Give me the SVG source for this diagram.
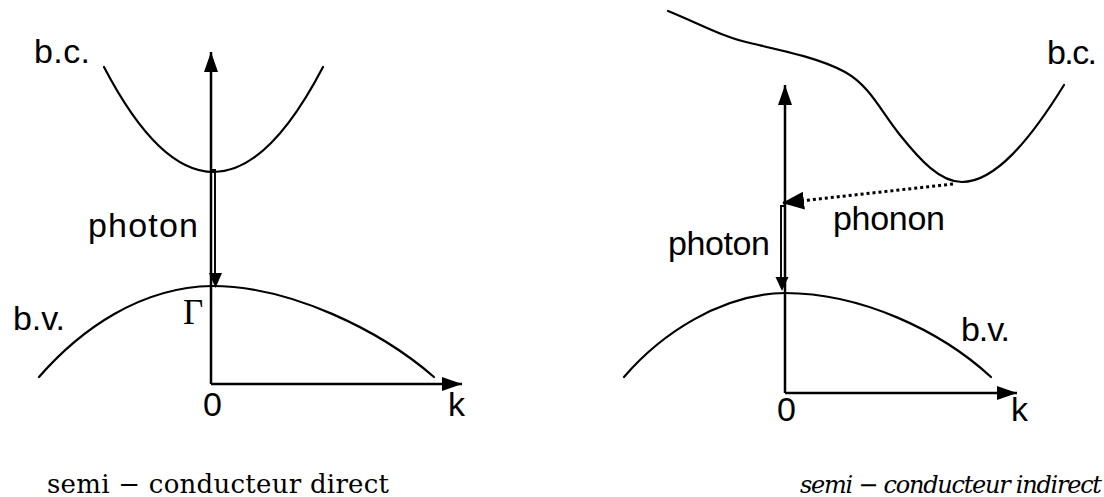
<svg xmlns="http://www.w3.org/2000/svg" width="1104" height="497" viewBox="0 0 1104 497">
<defs>
<style>
.curve{fill:none;stroke:#000;stroke-width:2.2;stroke-linecap:round}
.axis{fill:none;stroke:#000;stroke-width:2.5}
.thin{fill:none;stroke:#000;stroke-width:1.9}
.dot{fill:none;stroke:#000;stroke-width:3;stroke-dasharray:3 3}
.lbl{font-family:"Liberation Sans",Arial,sans-serif;font-size:34px;fill:#000}
.greek{font-family:"Liberation Serif","Times New Roman",serif;font-size:35px;fill:#000}
.cap{font-family:"DejaVu Serif",serif;font-size:26px;fill:#000}
.capi{font-family:"DejaVu Serif",serif;font-size:24px;font-style:italic;fill:#000}
</style>
<marker id="ah" markerUnits="userSpaceOnUse" markerWidth="21" markerHeight="15" refX="20" refY="7" orient="auto">
<path d="M0,0 L20,7 L0,14 z" fill="#000"/>
</marker>
<marker id="ahp" markerUnits="userSpaceOnUse" markerWidth="23" markerHeight="19" refX="22" refY="9" orient="auto">
<path d="M0,0 L22,9 L0,18 z" fill="#000"/>
</marker>
</defs>

<g id="direct">
<g id="bc-direct"><path class="curve" d="M104,67 Q213.5,277 323,67"/><text class="lbl" x="34" y="63" textLength="56">b.c.</text></g>
<g id="bv-direct"><path class="curve" d="M39,377 C80,330 140,287 212,286 C290,286 380,330 434,377"/><text class="lbl" x="13" y="330" textLength="52">b.v.</text></g>
<g id="axes-direct">
<path class="axis" d="M211,384 V52" marker-end="url(#ah)"/>
<path class="axis" d="M211,384 H462" marker-end="url(#ah)"/>
<text class="lbl" x="203" y="416" textLength="19">0</text>
<text class="lbl" x="448" y="416" textLength="18">k</text>
<text class="greek" x="183" y="324">Γ</text>
</g>
<g id="photon-direct">
<path class="thin" d="M211,170 H215 V276"/>
<path d="M209,273 L222,273 L215.5,288 z" fill="#000"/>
<text class="lbl" x="88" y="237" textLength="110">photon</text>
</g>
<text class="cap" x="47" y="493" textLength="342">semi − conducteur direct</text>
</g>

<g id="indirect">
<g id="bc-indirect"><path class="curve" d="M668,11 C700,24 725,38 750,43 C780,50 820,58 845,72 C870,86 880,110 900,135 C920,160 940,182 962,182 C995,182 1030,140 1064,85"/><text class="lbl" x="1047" y="64" textLength="50">b.c.</text></g>
<g id="bv-indirect"><path class="curve" d="M624,377 C660,335 720,294 785,293 C860,293 940,330 991,377"/><text class="lbl" x="961" y="341" textLength="49">b.v.</text></g>
<g id="axes-indirect">
<path class="axis" d="M785,393 V85" marker-end="url(#ah)"/>
<path class="axis" d="M785,393 H1017" marker-end="url(#ah)"/>
<text class="lbl" x="777" y="421" textLength="17">0</text>
<text class="lbl" x="1011" y="421" textLength="16">k</text>
</g>
<g id="photon-indirect">
<path class="thin" d="M785,206 H781 V279"/>
<path d="M775.5,277 L788.5,277 L782,291 z" fill="#000"/>
<text class="lbl" x="668" y="255" textLength="102">photon</text>
</g>
<g id="phonon">
<path class="dot" d="M953,184 L782,203" marker-end="url(#ahp)"/>
<text class="lbl" x="833" y="230" textLength="112">phonon</text>
</g>
<text class="capi" x="800" y="493" textLength="302">semi − conducteur indirect</text>
</g>
</svg>
